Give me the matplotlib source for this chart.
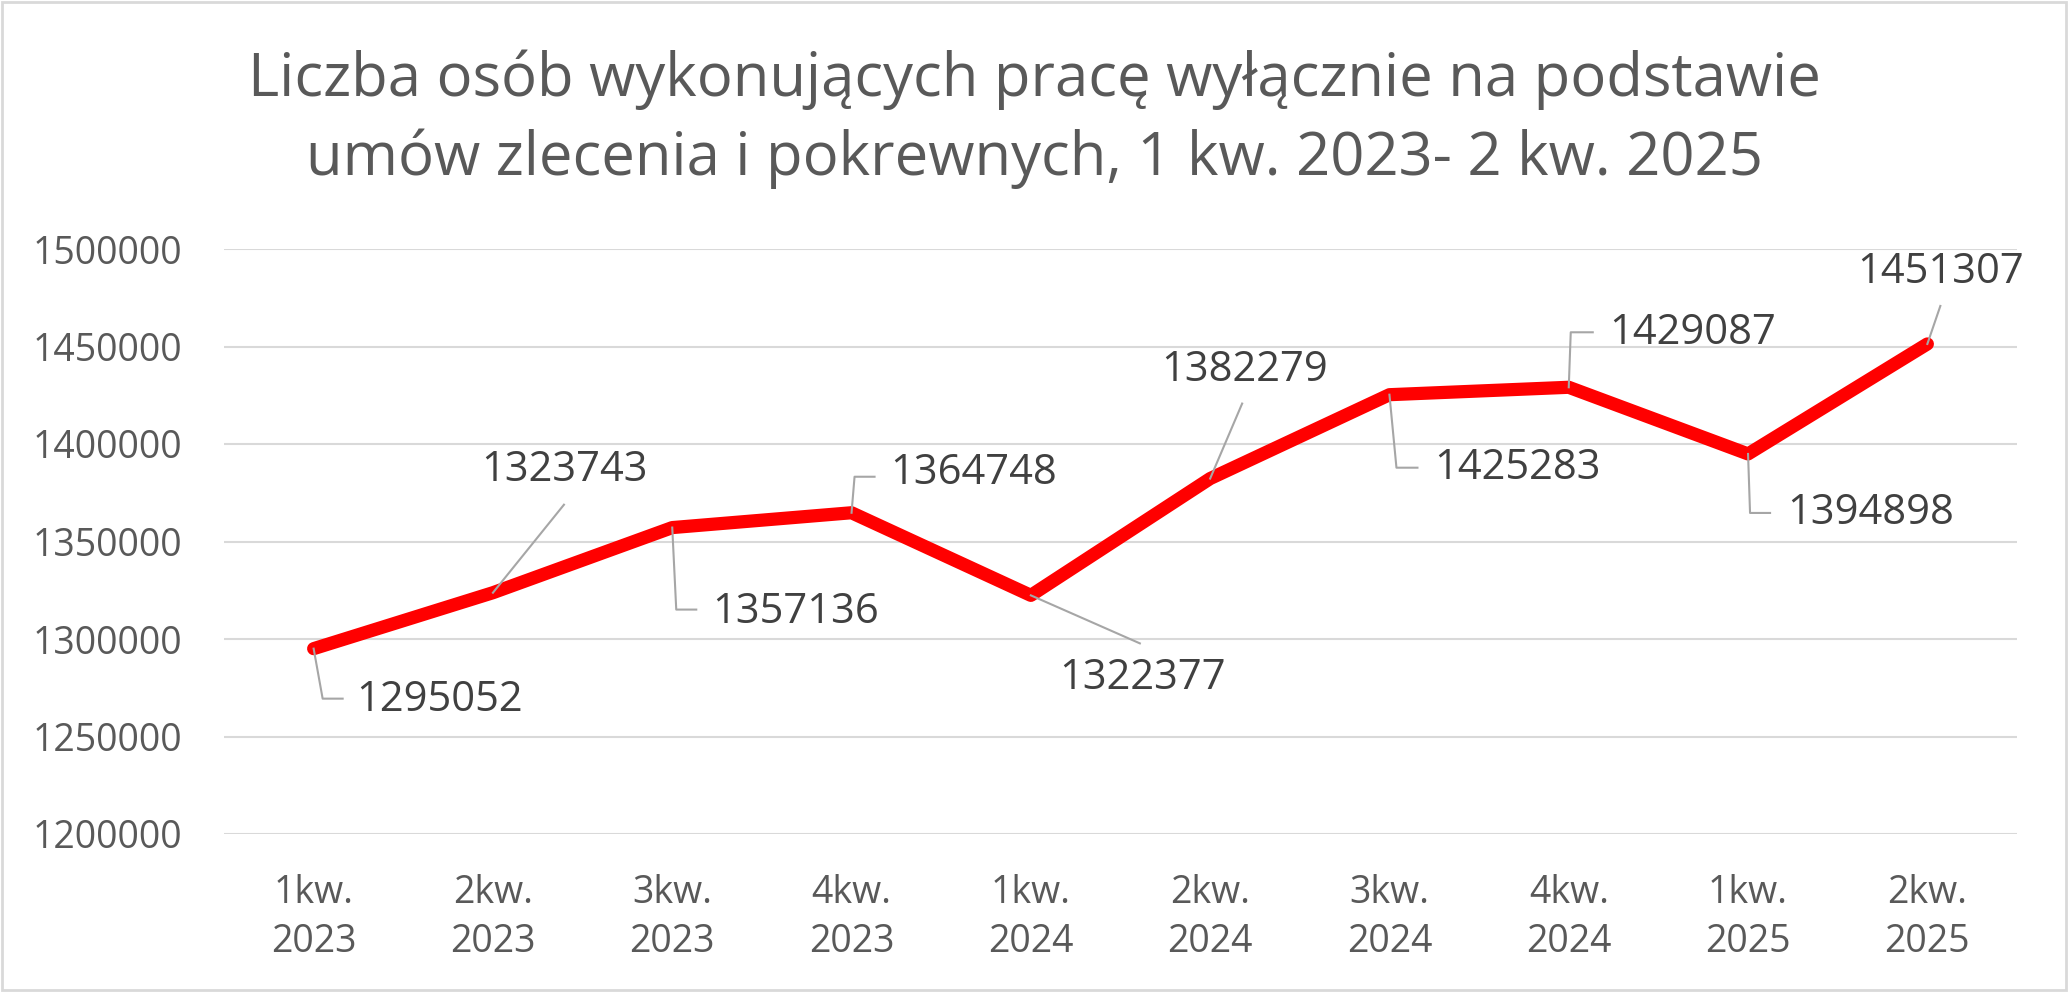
import matplotlib
matplotlib.use("Agg")
import matplotlib.pyplot as plt
from matplotlib.patches import Rectangle
from matplotlib.lines import Line2D

plt.rcParams['font.family'] = ['Open Sans', 'DejaVu Sans']

categories = ["1kw.\n2023", "2kw.\n2023", "3kw.\n2023", "4kw.\n2023",
              "1kw.\n2024", "2kw.\n2024", "3kw.\n2024", "4kw.\n2024",
              "1kw.\n2025", "2kw.\n2025"]
values = [1295052, 1323743, 1357136, 1364748, 1322377,
          1382279, 1425283, 1429087, 1394898, 1451307]
yticks = [1200000, 1250000, 1300000, 1350000, 1400000, 1450000, 1500000]
title_lines = ["Liczba osób wykonujących pracę wyłącznie na podstawie",
               "umów zlecenia i pokrewnych, 1 kw. 2023- 2 kw. 2025"]

# label placement: leader path offsets (px, y down) and text anchor offsets
leaders = [
    [(0, 0), (9, 50), (29, 50)],
    [(0, 0), (71, -88)],
    [(0, 0), (4, 82), (24, 82)],
    [(0, 0), (3, -36), (23, -36)],
    [(0, 0), (109, 48)],
    [(0, 0), (32, -75)],
    [(0, 0), (7, 73), (28, 73)],
    [(0, 0), (2, -55), (24, -55)],
    [(0, 0), (2, 59), (22, 59)],
    [(0, 0), (13, -38)],
]
text_pos = [
    (43, 51, 'left'), (72, -123, 'center'), (40, 84, 'left'), (39, -40, 'left'),
    (112, 83, 'center'), (34, -109, 'center'), (45, 73, 'left'), (40, -54, 'left'),
    (39, 59, 'left'), (13, -72, 'center'),
]

W, H = 2068, 992
DPI = 100
fig = plt.figure(figsize=(W / DPI, H / DPI), dpi=DPI)
fig.patch.set_facecolor('white')
fig.patches.append(Rectangle((0.001, 0.002), 0.998, 0.996, transform=fig.transFigure,
                             fill=False, edgecolor='#D9D9D9', linewidth=2))

ax = fig.add_axes([224 / W, (H - 834) / H, (2017 - 224) / W, (834 - 249) / H])
x = list(range(len(values)))
ax.plot(x, values, color='#FF0000', linewidth=9.5, solid_capstyle='round',
        solid_joinstyle='round', zorder=3)
ax.set_xlim(-0.5, len(values) - 0.5)
ax.set_ylim(yticks[0], yticks[-1])
ax.set_yticks(yticks)
ax.set_yticklabels([str(v) for v in yticks])
ax.set_xticks(x)
ax.set_xticklabels(categories, linespacing=1.38)
ax.grid(axis='y', color='#D9D9D9', linewidth=1.5, zorder=0)
ax.set_axisbelow(True)
for s in ax.spines.values():
    s.set_visible(False)
ax.tick_params(axis='both', length=0, labelsize=27, labelcolor='#595959')
ax.tick_params(axis='y', pad=30)
ax.tick_params(axis='x', pad=29)

fig.canvas.draw()
for i, v in enumerate(values):
    px, py = ax.transData.transform((i, v))
    xs = [px + dx for dx, dy in leaders[i]]
    ys = [py - dy for dx, dy in leaders[i]]
    fig.add_artist(Line2D(xs, ys, transform=None, color='#A6A6A6', linewidth=1.5, zorder=2))
    tdx, tdy, ha = text_pos[i]
    fig.text(px + tdx, py - tdy, str(v), transform=None, ha=ha, va='center',
             fontsize=30, color='#404040', zorder=4)

fig.text(0.5, 1 - 96 / H, title_lines[0], ha='center', va='baseline',
         fontsize=43, color='#595959')
fig.text(0.5, 1 - 175 / H, title_lines[1], ha='center', va='baseline',
         fontsize=43, color='#595959')

fig.savefig('out.png', dpi=DPI, facecolor='white')
